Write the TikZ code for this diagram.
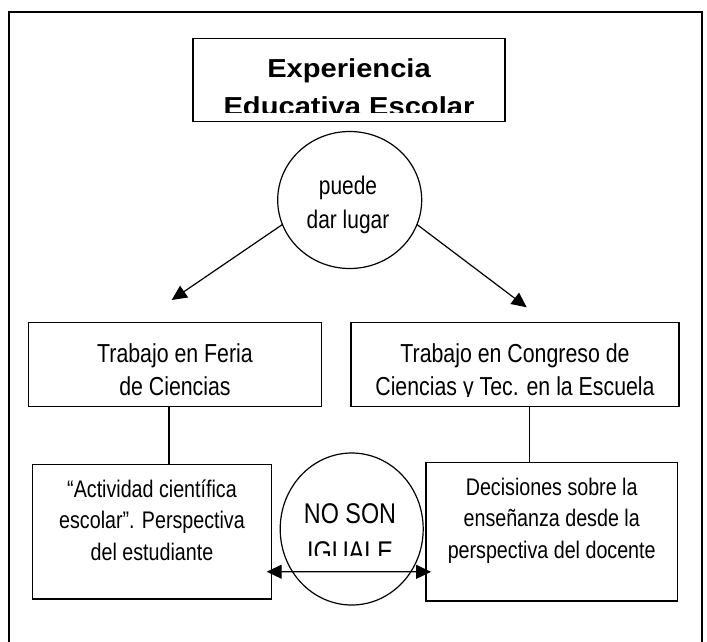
\documentclass[tikz,border=0pt]{standalone}
\usepackage{fontspec}
\setmainfont{Liberation Sans}
\newfontfamily\narrowfont[FakeStretch=0.82]{Liberation Sans}
\newfontfamily\widefont[FakeStretch=1.12]{Liberation Sans}
\usetikzlibrary{arrows.meta,shapes.geometric}
\begin{document}
\begin{tikzpicture}[x=1pt,y=-1pt,line width=1.4pt,
  box/.style={draw, rectangle, inner sep=0pt, outer sep=0pt},
  oval/.style={draw, ellipse, inner sep=0pt, outer sep=0pt, line width=1.2pt},
  txt/.style={inner sep=0pt, outer sep=0pt, align=center, anchor=base},
  lbl/.style={txt, font=\narrowfont\fontsize{24}{31.5}\selectfont},
  mid/.style={txt, font=\narrowfont\fontsize{26}{32.5}\selectfont},
  tipline/.style={line width=1.2pt, -{Triangle[length=15pt,width=14pt]}},
  dblline/.style={line width=1.2pt, {Triangle[length=15pt,width=14pt]}-{Triangle[length=15pt,width=14pt]}}]
\useasboundingbox (0,0) rectangle (707,641);
\clip (0,0) rectangle (707,641);
% outer frame (bottom edge lies outside the picture)
\draw[line width=2pt] (8.5,700) -- (8.5,12) -- (702,12) -- (702,700);

% title (base anchor = baseline of the last line)
\node[box, minimum width=312pt, minimum height=83pt] (title) at (349,80) {};
\begin{scope}
  \clip (193,38) rectangle (505,112.5);
  \node[txt, font=\widefont\bfseries\fontsize{26}{37.5}\selectfont] (titletext) at (349,115.2) {Experiencia\\Educativa Escolar};
\end{scope}

% puede dar lugar
\node[oval, minimum width=144pt, minimum height=137pt] (puede) at (349.7,200) {};
\node[txt, font=\narrowfont\fontsize{25.5}{33.5}\selectfont] (puedetext) at (348,228.3) {puede\\dar lugar};

% second row boxes
\node[box, minimum width=293.4pt, minimum height=83.5pt] (feria) at (175,364.5) {};
\node[box, minimum width=328pt, minimum height=83.5pt] (congreso) at (515,364.5) {};
\begin{scope}
  \clip (30,324) rectangle (320,396);
  \node[mid] (feriatext) at (175,395) {Trabajo en Feria\\de Ciencias};
\end{scope}
\begin{scope}
  \clip (353,324) rectangle (677,396);
  \node[mid] (congresotext) at (515,395) {Trabajo en Congreso de\\Ciencias y Tec. en la Escuela};
\end{scope}

% arrows from the oval
\coordinate (tipL) at (171.7,300);
\coordinate (tipR) at (526.7,307.3);
\draw[tipline] (puede.200) -- (tipL);
\draw[tipline] (puede.-20) -- (tipR);

% third row boxes
\node[box, minimum width=239pt, minimum height=134.7pt] (activ) at (152.2,531.7) {};
\node[box, minimum width=251.3pt, minimum height=138.3pt] (decis) at (551.7,531.85) {};
\node[lbl] (activtext) at (152,560.3) {“Actividad científica\\escolar”. Perspectiva\\del estudiante};
\node[lbl] (decistext) at (551.7,558.3) {Decisiones sobre la\\enseñanza desde la\\perspectiva del docente};

% vertical connectors
\draw ([xshift=-6pt]feria.south) -- ([xshift=-6pt]feria.south |- activ.north);
\draw ([xshift=14.5pt]congreso.south) -- ([xshift=14.5pt]congreso.south |- decis.north);

% double arrow
\draw[dblline] ([shift={(-5pt,-40pt)}]activ.east) -- ([shift={(5pt,-40pt)}]decis.west);

% NO SON oval
\node[oval, minimum width=143pt, minimum height=152pt] (noson) at (351.7,529) {};
\begin{scope}
  \clip (280,460) rectangle (424,555);
  \node[txt, font=\narrowfont\fontsize{28.5}{38}\selectfont] (nosontext) at (350,561.3) {NO SON\\IGUALE};
\end{scope}
\end{tikzpicture}
\end{document}
